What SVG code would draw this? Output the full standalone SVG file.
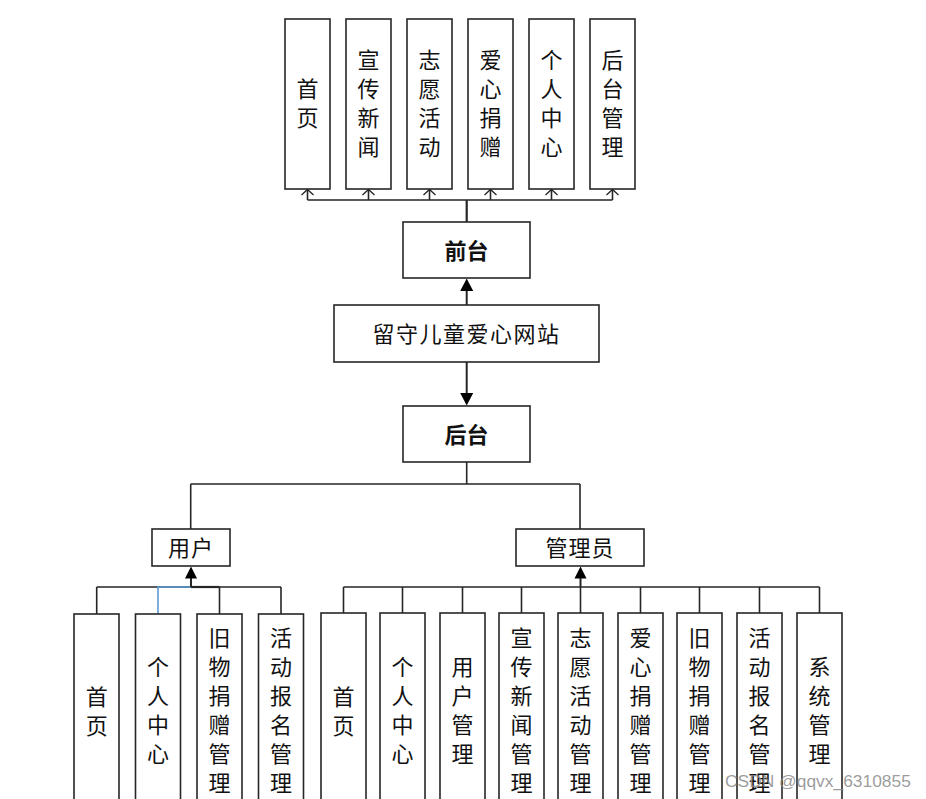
<svg xmlns="http://www.w3.org/2000/svg" width="926" height="799" viewBox="0 0 926 799">
<style>
.box{fill:#fff;stroke:#262626;stroke-width:1.6}
.t{font-family:"Noto Sans CJK SC","Noto Sans",sans-serif;font-size:22px;fill:#111;text-anchor:middle;dominant-baseline:central}
.b{font-weight:bold}
.ln{fill:none;stroke:#262626;stroke-width:1.6}
.open{fill:none;stroke:#262626;stroke-width:1.3}
.fill{fill:#000;stroke:none}
.wm{font-family:"Liberation Sans",Arial,sans-serif;font-size:17.4px;fill:#8a8a8a;fill-opacity:0.85}
</style>
<rect width="926" height="799" fill="#fff"/>

<g id="connectors">
  <path class="ln" d="M307.5 200 H612.5 M307.5 189.5 V200 M368.5 189.5 V200 M429.5 189.5 V200 M490.5 189.5 V200 M551.5 189.5 V200 M612.5 189.5 V200"/>
  <path class="ln" style="stroke-width:2.2" d="M466.7 200 V222"/>
  <path class="open" d="M301.5 195 L307.5 189.5 L313.5 195 M362.5 195 L368.5 189.5 L374.5 195 M423.5 195 L429.5 189.5 L435.5 195 M484.5 195 L490.5 189.5 L496.5 195 M545.5 195 L551.5 189.5 L557.5 195 M606.5 195 L612.5 189.5 L618.5 195"/>
  <path class="ln" style="stroke-width:2" d="M466.7 305 V290"/>
  <path class="fill" d="M466.7 278.5 L473.2 291 L460.2 291 Z"/>
  <path class="ln" style="stroke-width:2" d="M466.7 362 V394"/>
  <path class="fill" d="M466.7 405.5 L473.2 393 L460.2 393 Z"/>
  <path class="ln" d="M466.7 462 V484 M190.7 484 H580 M190.7 484 V529 M580 484 V529"/>
  <path class="ln" d="M96.7 587 H281 M96.7 587 V614 M219.5 587 V614 M281 587 V614"/>
  <path class="ln" style="stroke-width:2.2" d="M191 587 H219.5"/>
  <path fill="none" stroke="#5b9bd5" stroke-width="1.6" d="M158 614 V587 H191"/>
  <path class="ln" style="stroke-width:2" d="M191 587 V577"/>
  <path class="fill" d="M191 566.5 L197 578.5 L185 578.5 Z"/>
  <path class="ln" d="M343.5 587 H819.5 M343.5 587 V613 M402.5 587 V613 M462.5 587 V613 M521.5 587 V613 M580.5 587 V613 M640.5 587 V613 M699.5 587 V613 M759.5 587 V613 M819.5 587 V613"/>
  <path class="ln" style="stroke-width:2" d="M580.5 587 V577"/>
  <path class="fill" d="M580.5 566.5 L586.5 578.5 L574.5 578.5 Z"/>
</g>

<g id="f-home"><rect class="box" x="285" y="19" width="45" height="170"/><text class="t"><tspan x="307.5" y="87">首</tspan><tspan x="307.5" y="116">页</tspan></text></g>
<g id="f-news"><rect class="box" x="346" y="19" width="45" height="170"/><text class="t"><tspan x="368.5" y="58">宣</tspan><tspan x="368.5" y="87">传</tspan><tspan x="368.5" y="116">新</tspan><tspan x="368.5" y="145">闻</tspan></text></g>
<g id="f-activity"><rect class="box" x="407" y="19" width="45" height="170"/><text class="t"><tspan x="429.5" y="58">志</tspan><tspan x="429.5" y="87">愿</tspan><tspan x="429.5" y="116">活</tspan><tspan x="429.5" y="145">动</tspan></text></g>
<g id="f-donate"><rect class="box" x="468" y="19" width="45" height="170"/><text class="t"><tspan x="490.5" y="58">爱</tspan><tspan x="490.5" y="87">心</tspan><tspan x="490.5" y="116">捐</tspan><tspan x="490.5" y="145">赠</tspan></text></g>
<g id="f-personal"><rect class="box" x="529" y="19" width="45" height="170"/><text class="t"><tspan x="551.5" y="58">个</tspan><tspan x="551.5" y="87">人</tspan><tspan x="551.5" y="116">中</tspan><tspan x="551.5" y="145">心</tspan></text></g>
<g id="f-admin"><rect class="box" x="590" y="19" width="45" height="170"/><text class="t"><tspan x="612.5" y="58">后</tspan><tspan x="612.5" y="87">台</tspan><tspan x="612.5" y="116">管</tspan><tspan x="612.5" y="145">理</tspan></text></g>

<g id="frontend"><rect class="box" x="403" y="222" width="127" height="56"/><text class="t b" x="466.5" y="248.5">前台</text></g>
<g id="site"><rect class="box" x="334" y="305" width="265" height="57"/><text class="t" x="466.5" y="331.5" style="letter-spacing:1.5px">留守儿童爱心网站</text></g>
<g id="backend"><rect class="box" x="403" y="406" width="127" height="56"/><text class="t b" x="466.5" y="432.5">后台</text></g>

<g id="user"><rect class="box" x="152" y="529" width="78" height="37"/><text class="t" x="191" y="546" style="letter-spacing:1px">用户</text></g>
<g id="admin"><rect class="box" x="516" y="529" width="128" height="37"/><text class="t" x="580" y="546" style="letter-spacing:1px">管理员</text></g>

<g id="u-home"><rect class="box" x="74" y="614" width="45" height="195"/><text class="t"><tspan x="96.7" y="695">首</tspan><tspan x="96.7" y="724">页</tspan></text></g>
<g id="u-personal"><rect class="box" x="135.5" y="614" width="45" height="195"/><text class="t"><tspan x="158" y="665">个</tspan><tspan x="158" y="694">人</tspan><tspan x="158" y="723">中</tspan><tspan x="158" y="752">心</tspan></text></g>
<g id="u-old"><rect class="box" x="197" y="614" width="45" height="195"/><text class="t"><tspan x="219.5" y="636">旧</tspan><tspan x="219.5" y="665">物</tspan><tspan x="219.5" y="694">捐</tspan><tspan x="219.5" y="723">赠</tspan><tspan x="219.5" y="752">管</tspan><tspan x="219.5" y="781">理</tspan></text></g>
<g id="u-signup"><rect class="box" x="258.5" y="614" width="45" height="195"/><text class="t"><tspan x="281" y="636">活</tspan><tspan x="281" y="665">动</tspan><tspan x="281" y="694">报</tspan><tspan x="281" y="723">名</tspan><tspan x="281" y="752">管</tspan><tspan x="281" y="781">理</tspan></text></g>

<g id="a-home"><rect class="box" x="321" y="613" width="45" height="196"/><text class="t"><tspan x="343.5" y="695">首</tspan><tspan x="343.5" y="724">页</tspan></text></g>
<g id="a-personal"><rect class="box" x="380" y="613" width="45" height="196"/><text class="t"><tspan x="402.5" y="665">个</tspan><tspan x="402.5" y="694">人</tspan><tspan x="402.5" y="723">中</tspan><tspan x="402.5" y="752">心</tspan></text></g>
<g id="a-user"><rect class="box" x="440" y="613" width="45" height="196"/><text class="t"><tspan x="462.5" y="665">用</tspan><tspan x="462.5" y="694">户</tspan><tspan x="462.5" y="723">管</tspan><tspan x="462.5" y="752">理</tspan></text></g>
<g id="a-news"><rect class="box" x="499" y="613" width="45" height="196"/><text class="t"><tspan x="521.5" y="636">宣</tspan><tspan x="521.5" y="665">传</tspan><tspan x="521.5" y="694">新</tspan><tspan x="521.5" y="723">闻</tspan><tspan x="521.5" y="752">管</tspan><tspan x="521.5" y="781">理</tspan></text></g>
<g id="a-activity"><rect class="box" x="558" y="613" width="45" height="196"/><text class="t"><tspan x="580.5" y="636">志</tspan><tspan x="580.5" y="665">愿</tspan><tspan x="580.5" y="694">活</tspan><tspan x="580.5" y="723">动</tspan><tspan x="580.5" y="752">管</tspan><tspan x="580.5" y="781">理</tspan></text></g>
<g id="a-donate"><rect class="box" x="618" y="613" width="45" height="196"/><text class="t"><tspan x="640.5" y="636">爱</tspan><tspan x="640.5" y="665">心</tspan><tspan x="640.5" y="694">捐</tspan><tspan x="640.5" y="723">赠</tspan><tspan x="640.5" y="752">管</tspan><tspan x="640.5" y="781">理</tspan></text></g>
<g id="a-old"><rect class="box" x="677" y="613" width="45" height="196"/><text class="t"><tspan x="699.5" y="636">旧</tspan><tspan x="699.5" y="665">物</tspan><tspan x="699.5" y="694">捐</tspan><tspan x="699.5" y="723">赠</tspan><tspan x="699.5" y="752">管</tspan><tspan x="699.5" y="781">理</tspan></text></g>
<g id="a-signup"><rect class="box" x="737" y="613" width="45" height="196"/><text class="t"><tspan x="759.5" y="636">活</tspan><tspan x="759.5" y="665">动</tspan><tspan x="759.5" y="694">报</tspan><tspan x="759.5" y="723">名</tspan><tspan x="759.5" y="752">管</tspan><tspan x="759.5" y="781">理</tspan></text></g>
<g id="a-system"><rect class="box" x="797" y="613" width="45" height="196"/><text class="t"><tspan x="819.5" y="665">系</tspan><tspan x="819.5" y="694">统</tspan><tspan x="819.5" y="723">管</tspan><tspan x="819.5" y="752">理</tspan></text></g>

<text class="wm" x="725" y="787">CSDN @qqvx_6310855</text>
</svg>
